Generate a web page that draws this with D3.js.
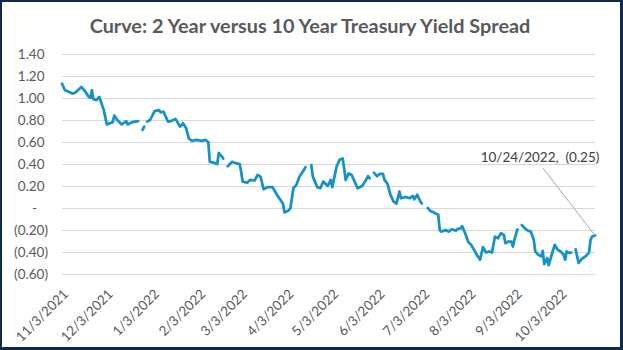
<!DOCTYPE html>
<html>
<head>
<meta charset="utf-8">
<script src="https://cdn.jsdelivr.net/npm/d3@7"></script>
<style>
  html, body { margin: 0; padding: 0; background: #fff; }
  svg { display: block; }
  text { font-family: Lato, "Open Sans", sans-serif; }
</style>
</head>
<body>
<svg id="chart" width="623" height="350"></svg>
<script>
// ---------- DATA ----------
const chartTitle = "Curve: 2 Year versus 10 Year Treasury Yield Spread";
const dates = [
  "2021-11-01","2021-11-03","2021-11-05","2021-11-08","2021-11-10","2021-11-14","2021-11-16","2021-11-19",
  "2021-11-20","2021-11-21","2021-11-22","2021-11-24","2021-11-26","2021-11-29","2021-12-01","2021-12-03",
  "2021-12-05","2021-12-06","2021-12-08","2021-12-11","2021-12-14","2021-12-15","2021-12-18","2021-12-22",
  "2021-12-23","2021-12-25","2021-12-26","2021-12-27","2021-12-28","2021-12-30","2022-01-02","2022-01-05",
  "2022-01-06","2022-01-08","2022-01-11","2022-01-13","2022-01-16","2022-01-19","2022-01-21","2022-01-23",
  "2022-01-25","2022-01-27","2022-01-30","2022-02-03","2022-02-05","2022-02-07","2022-02-08","2022-02-10",
  "2022-02-13","2022-02-14","2022-02-16","2022-02-17","2022-02-19","2022-02-20","2022-02-23","2022-02-26",
  "2022-02-28","2022-03-01","2022-03-02","2022-03-05","2022-03-07","2022-03-10","2022-03-12","2022-03-14",
  "2022-03-16","2022-03-19","2022-03-22","2022-03-25","2022-03-28","2022-03-29","2022-03-30","2022-04-02",
  "2022-04-03","2022-04-05","2022-04-07","2022-04-09","2022-04-12","2022-04-13","2022-04-15","2022-04-17",
  "2022-04-18","2022-04-21","2022-04-23","2022-04-25","2022-04-28","2022-04-30","2022-05-01","2022-05-04",
  "2022-05-06","2022-05-08","2022-05-09","2022-05-10","2022-05-12","2022-05-14","2022-05-16","2022-05-18",
  "2022-05-21","2022-05-23","2022-05-25","2022-05-26","2022-05-28","2022-05-29","2022-05-31","2022-06-02",
  "2022-06-04","2022-06-05","2022-06-07","2022-06-09","2022-06-11","2022-06-13","2022-06-15","2022-06-16",
  "2022-06-19","2022-06-22","2022-06-24","2022-06-25","2022-06-27","2022-06-29","2022-06-30","2022-07-02",
  "2022-07-04","2022-07-06","2022-07-08","2022-07-09","2022-07-11","2022-07-12","2022-07-13","2022-07-16",
  "2022-07-18","2022-07-20","2022-07-23","2022-07-24","2022-07-26","2022-07-27","2022-07-29","2022-07-31",
  "2022-08-02","2022-08-04","2022-08-06","2022-08-08","2022-08-10","2022-08-12","2022-08-14","2022-08-16",
  "2022-08-18","2022-08-20","2022-08-22","2022-08-24","2022-08-25","2022-08-27","2022-08-29","2022-08-30",
  "2022-08-31","2022-09-02","2022-09-03","2022-09-05","2022-09-07","2022-09-09","2022-09-11","2022-09-13",
  "2022-09-14","2022-09-16","2022-09-18","2022-09-19","2022-09-20","2022-09-22","2022-09-23","2022-09-25",
  "2022-09-27","2022-09-29","2022-10-01","2022-10-03","2022-10-04","2022-10-05","2022-10-07","2022-10-08",
  "2022-10-10","2022-10-11","2022-10-13","2022-10-15","2022-10-18","2022-10-20","2022-10-21","2022-10-22",
  "2022-10-24"
];
const spread = [
  1.13, 1.07, 1.06, 1.04, 1.05, 1.10, 1.07, 1.01,
  1.00, 1.07, 0.99, 0.98, 1.01, 0.89, 0.76, 0.77,
  0.78, 0.84, 0.80, 0.76, 0.79, 0.76, 0.78, 0.79,
  null, 0.71, 0.74, null, 0.785, 0.80, 0.88, 0.89,
  0.87, 0.875, 0.785, 0.79, 0.81, 0.74, 0.77, 0.73,
  0.63, 0.61, 0.62, 0.61, 0.62, 0.60, 0.42, 0.415,
  0.40, 0.50, 0.47, 0.45, null, 0.38, 0.42, 0.405,
  0.40, 0.33, 0.24, 0.23, 0.255, 0.25, 0.30, 0.285,
  0.17, 0.19, 0.19, 0.12, 0.06, 0.04, -0.04, -0.02,
  0.00, 0.18, 0.21, 0.285, 0.345, 0.37, null, 0.39,
  0.285, 0.19, 0.18, 0.24, 0.20, 0.255, 0.19, 0.38,
  0.44, 0.45, 0.36, 0.255, 0.315, 0.30, 0.24, 0.18,
  0.20, 0.24, 0.29, 0.27, null, 0.32, 0.29, 0.31,
  0.31, 0.255, 0.22, 0.12, 0.06, 0.04, 0.15, 0.09,
  0.10, 0.09, 0.11, 0.08, 0.12, 0.06, 0.04, null,
  0.00, -0.03, -0.04, -0.05, -0.06, -0.20, -0.215, -0.20,
  -0.215, -0.195, -0.205, -0.19, -0.185, -0.165, -0.23, -0.305,
  -0.335, -0.38, -0.43, -0.47, -0.355, -0.405, -0.395, -0.405,
  -0.26, -0.275, -0.23, -0.245, -0.32, -0.305, -0.305, -0.35,
  -0.29, -0.195, null, -0.155, -0.185, -0.205, -0.215, -0.29,
  -0.395, -0.425, -0.44, -0.39, -0.51, -0.455, -0.52, -0.425,
  -0.335, -0.38, -0.395, -0.425, -0.47, -0.395, -0.41, -0.405,
  null, -0.375, -0.50, -0.465, -0.435, -0.405, -0.29, -0.26,
  -0.25
];
const yTicks = [1.40, 1.20, 1.00, 0.80, 0.60, 0.40, 0.20, 0.00, -0.20, -0.40, -0.60];
const xTickDates = ["2021-11-03","2021-12-03","2022-01-03","2022-02-03","2022-03-03","2022-04-03",
                    "2022-05-03","2022-06-03","2022-07-03","2022-08-03","2022-09-03","2022-10-03"];
const annotationText = "10/24/2022,  (0.25)";

// ---------- CHART ----------
const W = 623, H = 350;
const svg = d3.select("#chart");
const parse = d3.utcParse("%Y-%m-%d");
const data = dates.map((d, i) => ({ date: parse(d), value: spread[i] }));

// frame
svg.append("rect").attr("x", 0).attr("y", 0).attr("width", W).attr("height", H).attr("fill", "#102A4C");
svg.append("rect").attr("x", 2).attr("y", 2).attr("width", 618).attr("height", 345).attr("fill", "#ffffff");

const plot = { left: 62, right: 595, top: 54, bottom: 274 };
const x = d3.scaleUtc()
  .domain([parse(dates[0]), parse(dates[dates.length - 1])])
  .range([plot.left, plot.right]);
const y = d3.scaleLinear().domain([-0.6, 1.4]).range([plot.bottom, plot.top]);

// gridlines
svg.append("g").selectAll("line").data(yTicks).join("line")
  .attr("x1", plot.left).attr("x2", plot.right)
  .attr("y1", d => Math.round(y(d)) + 0.5).attr("y2", d => Math.round(y(d)) + 0.5)
  .attr("stroke", "#D9D9D9").attr("stroke-width", 1);

// y labels (accounting format)
const fmt = d3.format(".2f");
const yl = svg.append("g").attr("font-size", 13.5).attr("fill", "#595959");
yTicks.forEach(v => {
  let label, xPos;
  if (Math.abs(v) < 1e-9) { label = "-"; xPos = 37; }
  else if (v < 0) { label = "(" + fmt(-v) + ")"; xPos = 48; }
  else { label = fmt(v); xPos = 44.5; }
  yl.append("text").attr("x", xPos).attr("y", y(v)).attr("dy", "0.35em")
    .attr("text-anchor", "end").text(label);
});

// x labels
const xFmt = d => (d.getUTCMonth() + 1) + "/" + d.getUTCDate() + "/" + d.getUTCFullYear();
svg.append("g").attr("font-size", 13.5).attr("fill", "#595959")
  .selectAll("text").data(xTickDates.map(parse)).join("text")
  .attr("text-anchor", "end")
  .attr("transform", d => `translate(${x(d) + 4},295) rotate(-45)`)
  .text(xFmt);

// line
const line = d3.line()
  .defined(d => d.value !== null)
  .x(d => x(d.date)).y(d => y(d.value));
svg.append("path").datum(data)
  .attr("d", line)
  .attr("fill", "none")
  .attr("stroke", "#1592C6")
  .attr("stroke-width", 2.75)
  .attr("stroke-linejoin", "round")
  .attr("stroke-linecap", "round");

// title
const title = svg.append("text")
  .attr("x", 310).attr("y", 33).attr("text-anchor", "middle")
  .attr("font-weight", "bold").attr("font-size", 18.5).attr("fill", "#595959")
  .text(chartTitle);
const tw = title.node().getComputedTextLength();
title.attr("font-size", 18.5 * 441 / tw);

// annotation
const last = data[data.length - 1];
svg.append("line")
  .attr("x1", 543).attr("y1", 168)
  .attr("x2", x(last.date)).attr("y2", y(last.value))
  .attr("stroke", "#A6A6A6").attr("stroke-width", 1);
svg.append("text")
  .attr("x", 540).attr("y", 162).attr("text-anchor", "middle")
  .attr("font-size", 13.5).attr("fill", "#404040")
  .attr("xml:space", "preserve").style("white-space", "pre")
  .text(annotationText);
</script>
</body>
</html>
